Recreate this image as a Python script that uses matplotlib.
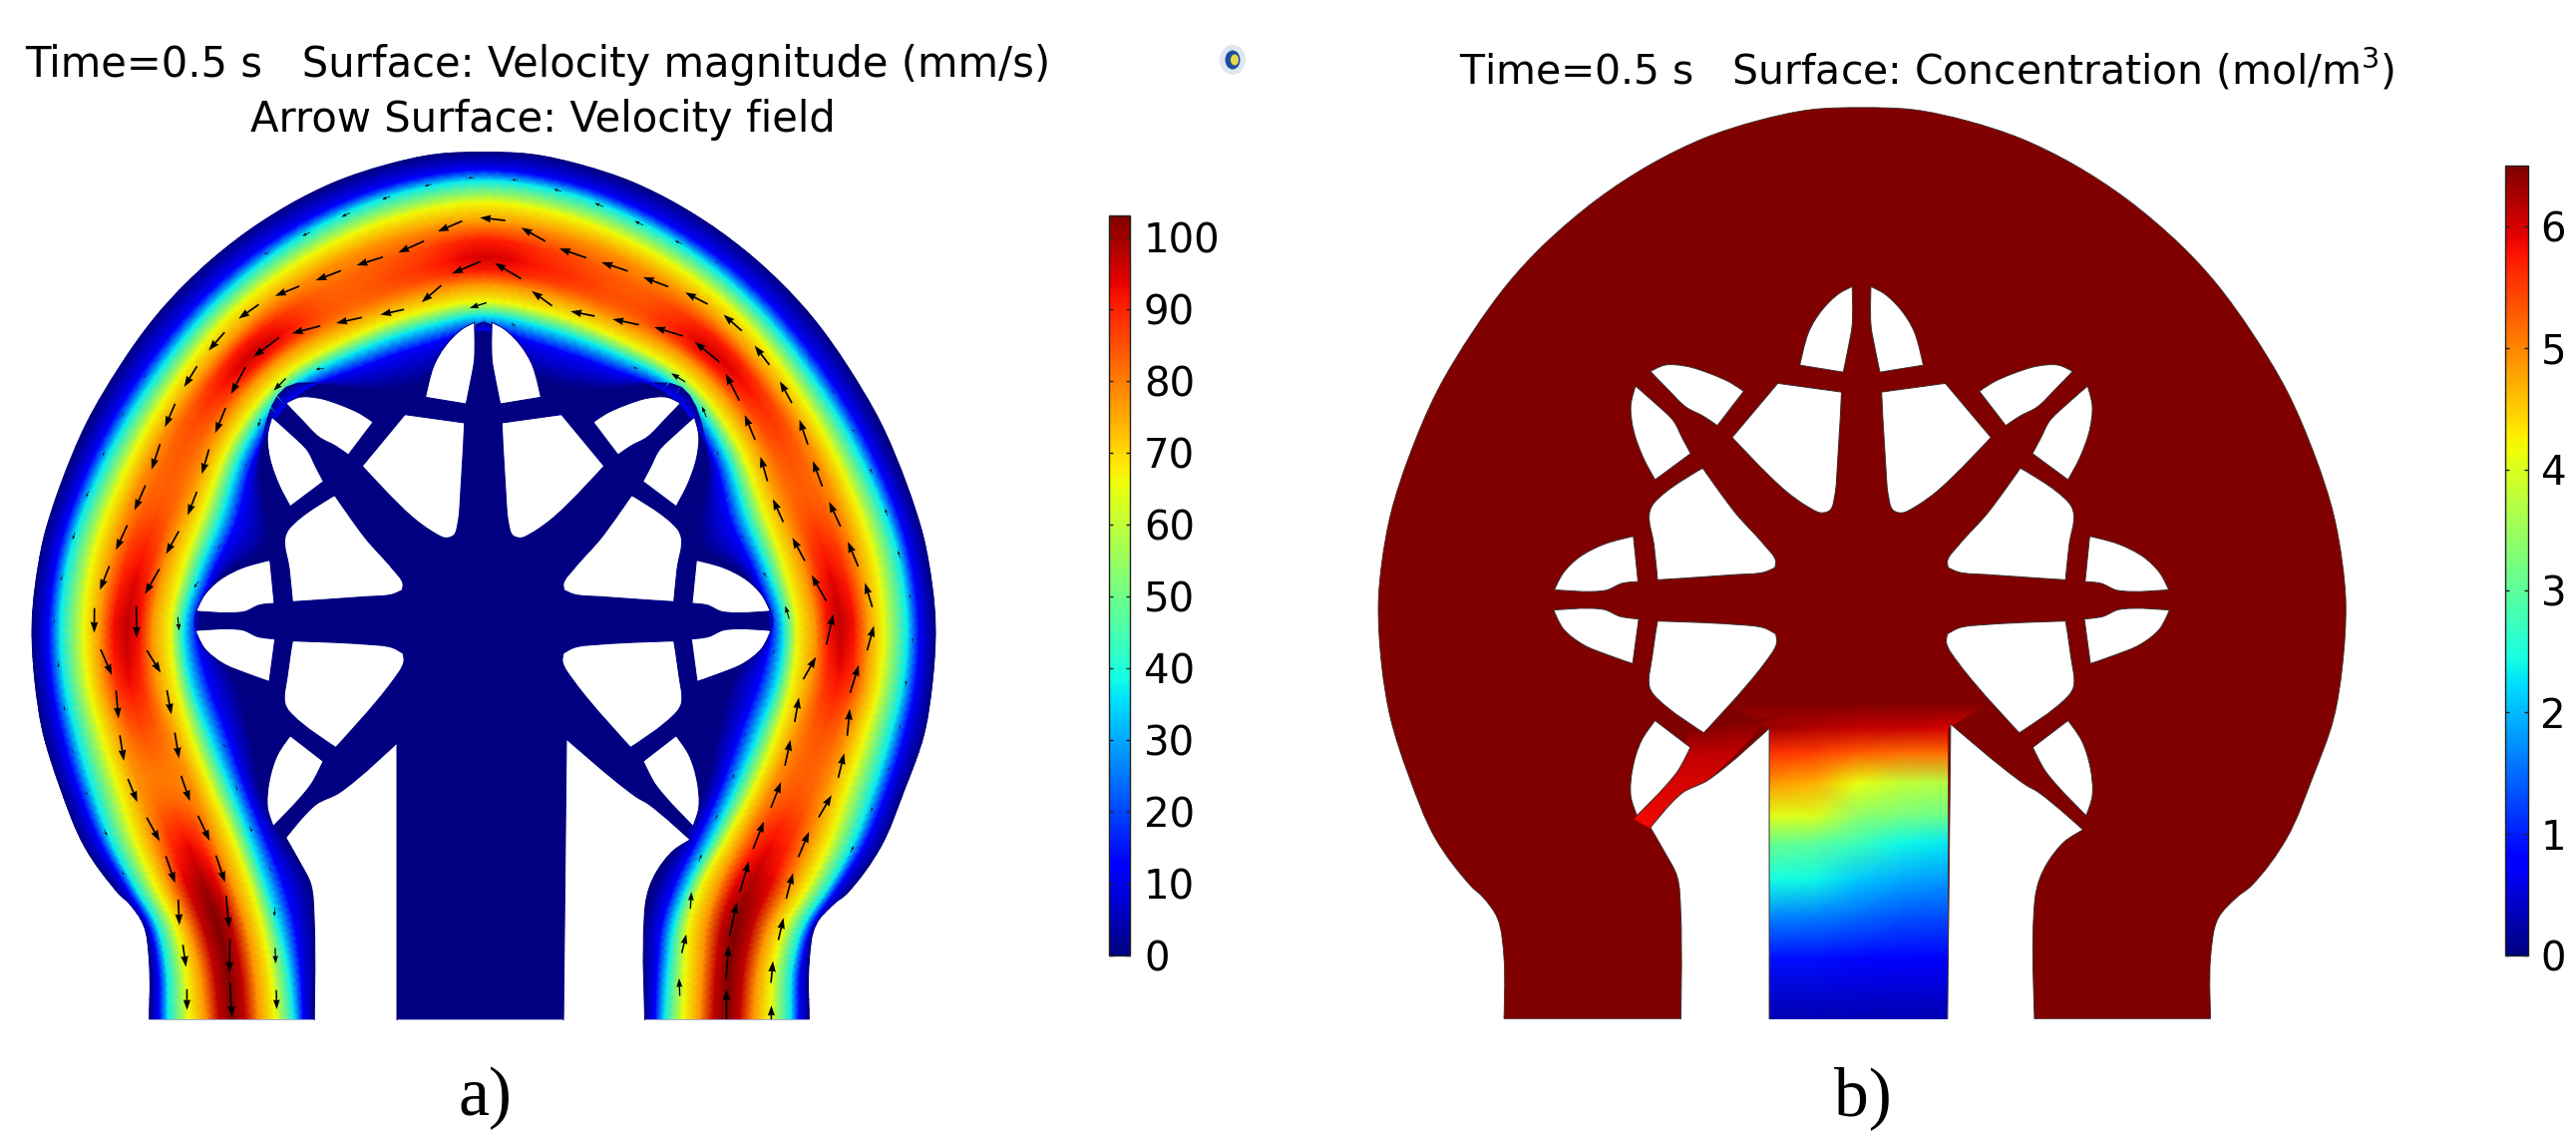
import numpy as np
import matplotlib
matplotlib.use('Agg')
import matplotlib.pyplot as plt
from matplotlib.cm import ScalarMappable
from matplotlib.colors import Normalize
from matplotlib.patches import Ellipse, PathPatch
from matplotlib.path import Path

W, H = 2583, 1134

# outer wall, left half, read in 3x crops (two crops, top one starts at y=140, bottom one at y=530)
wall_upper = [(35,1460),(45,1340),(70,1200),(120,1040),(200,850),(300,680),(400,540),(500,430),(650,300),(800,200),
              (950,125),(1100,75),(1250,43),(1395,37)]
wall_lower = [(45,470),(70,620),(120,780),(195,960),(295,1097),(330,1130),(370,1190),(388,1300),(388,1477)]
wall_lower_axis = [485,485,484,484,484,483,481,480.5,480.5]

# channel stations as (outer wall, inner wall)
lower_outer = [(388,1477),(388,1300),(370,1190),(295,1097),(195,960),(120,780),(70,620),(45,470)]
lower_inner = [(888,1477),(888,1300),(888,1190),(870,1060),(790,930),(720,770),(690,610),(640,440)]
upper_outer = [(35,1460),(67,1216),(143,994),(300,682),(520,412),(808,196),(1155,62),(1395,37)]
upper_inner = [(525,1460),(610,1310),(740,1215),(720,975),(800,745),(1070,754),(1263,700),(1395,548)]
# mirror axis of each lower station for the right hand side, in pixels
lower_axis = [480.5,480.5,481,484,484,484,485,485]

# where the colours sit across each station: cyan, yellow, orange, peak, orange, yellow, cyan
lower_left_iso = [(.114,.24,.344,.50,.66,.76,.874),(.114,.224,.314,.484,.634,.734,.844),(.106,.203,.27,.425,.60,.69,.795),(.096,.20,.27,.46,.60,.687,.765),
                  (.126,.25,.345,.51,.66,.765,.85),(.158,.30,.41,.53,.67,.74,.84),(.16,.28,.37,.48,.61,.71,.81),(.134,.25,.32,.45,.59,.69,.76)]
lower_right_iso = [(.134,.25,.32,.45,.59,.69,.76),(.16,.28,.37,.48,.61,.71,.81),(.158,.30,.41,.53,.67,.74,.84),(.126,.25,.345,.55,.70,.78,.85),
                   (.096,.20,.30,.52,.68,.77,.84),(.106,.21,.30,.47,.66,.77,.85),(.114,.224,.314,.484,.634,.734,.844),(.114,.24,.344,.50,.66,.76,.874)]
upper_iso = [(.16,.31,.41,.58,.72,.83,.90),(.125,.26,.365,.51,.65,.75,.85),(.14,.24,.33,.50,.60,.70,.80),(.17,.31,.40,.48,.64,.735,.83),
             (.20,.30,.45,.61,.75,.85,.92),(.115,.24,.33,.545,.635,.72,.80),(.12,.22,.31,.48,.59,.68,.77),(.14,.27,.40,.59,.77,.86,.92)]
lower_left_peak = [103,103,103,100,92,81,85,93]
upper_left_peak = [97,92,84,86,96,84,88,95]
upper_right_peak = [90,85,95,88,84,92,97]
lower_right_peak = [92,85,84,92,99,103,103,103]
blue_level, cyan_level, yellow_level, orange_level = 11.5, 37, 66, 78

# white openings of the star, left half, in panel a pixels
holes_left = [
    [(475.7,323.3),(463.3,330),(446.7,346.7),(435,366.7),(426.7,398.3),(467.3,405),(471.7,383.3),(475.7,360)],
    [(406,415.7),(465.7,424),(461.7,496.7),(459.3,523.3),(455,536.7),(446.7,539.3),(436.7,535),(413.3,518.3),(363.3,467.3)],
    [(286.7,404.3),(300,398.3),(320,399.3),(343.3,406.7),(361.7,415),(374,423.3),(349.3,456),(336.7,447.3),(320,438.3),(303.3,421.7)],
    [(272.7,418.3),(268.3,436.7),(270.7,460),(280,486.7),(291,507.7),(324.3,482.7),(316.7,468.3),(308.3,451.7),(293.3,436.7)],
    [(335.7,496.7),(366.7,540),(393.3,570),(404,585),(403.3,591.7),(393.3,596),(366.7,598.3),(293.3,603.3),(290,570),(285.7,540),(290,530)],
    [(270.7,561.7),(275,605),(260,606.7),(245,613.3),(196.7,612.7),(205,596.7),(220,581.7),(243.3,569.3)],
    [(196,632.3),(243.3,631.7),(258.3,638.3),(275.7,640.7),(270,683.3),(246.7,675),(223.3,665),(205,650)],
    [(293.3,642.7),(366.7,646),(393.3,649.3),(404,655),(405,663.3),(393.3,683.3),(336.7,749.3),(290,713.3),(285.7,705),(288.3,676.7)],
    [(291,737.7),(324,763.3),(311.7,786.7),(274,828.3),(268.3,810),(270,783.3),(278.3,756.7)],
]
gap_left = [(286.7,840),(316.7,806.7),(340,795),(398,745),(398,1030),(315,1030),(315,920),(311.7,886.7),(300,863.3)]
gap_right = [(692,842),(650,806),(638,799),(568,741),(565,1030),(647,1030),(647,908),(651,890),(659,873),(675,853)]
mirror_x = 484.5
bottom_y = 1022.5

# concentration in the stem of panel b
stem_x = [398, 440, 481, 523, 565]
stem_y = [722, 745, 768, 797, 829, 855, 890, 924, 964.5, 1022.5]
stem_conc = [[6.5,6.5,6.5,6.5,6.5],
             [6.3,6.2,6.1,6.1,6.0],
             [5.6,5.5,5.3,5.2,5.2],
             [4.9,4.7,4.1,3.8,3.7],
             [4.06,4.0,3.4,3.2,3.1],
             [3.1,3.0,2.75,2.4,2.3],
             [2.44,2.4,2.1,1.9,1.8],
             [1.7,1.65,1.5,1.35,1.3],
             [.9,.9,.85,.8,.75],
             [.3,.3,.3,.3,.3]]
arm_conc = [[6.5,6.5],[6.1,6.1],[5.85,5.85]]

speed_ticks = [0,10,20,30,40,50,60,70,80,90,100]
conc_ticks = [0,1,2,3,4,5,6]
speed_max = 103
conc_max = 6.5


def fine(pts, y0=140):
    pts = np.array(pts, dtype=float)
    return np.c_[20+pts[:,0]/3, y0+pts[:,1]/3]


def smooth_path(pts, sharp=55):
    # closed bezier outline through the points, corners sharper than `sharp` degrees stay corners
    pts = np.array(pts, dtype=float)
    n = len(pts)
    prev_d = pts-np.roll(pts, 1, axis=0)
    next_d = np.roll(pts, -1, axis=0)-pts
    l0 = np.hypot(*prev_d.T)
    l1 = np.hypot(*next_d.T)
    tan = prev_d/l0[:,None]+next_d/l1[:,None]
    tan /= np.hypot(*tan.T)[:,None]
    turn = np.degrees(np.arccos(np.clip((prev_d*next_d).sum(1)/(l0*l1), -1, 1)))
    k = np.where(turn > sharp, 0, .33)
    verts = [pts[0]]
    codes = [Path.MOVETO]
    for i in range(n):
        j = (i+1) % n
        verts += [pts[i]+tan[i]*k[i]*l1[i], pts[j]-tan[j]*k[j]*l0[j], pts[j]]
        codes += [Path.CURVE4]*3
    return Path(verts, codes)


def fine_mesh(a, t, f=6):
    # hermite along the channel so the colour bands do not show the stations as corners
    a = np.asarray(a, dtype=float)
    a = a[:,None] if a.ndim == 1 else a
    g = np.gradient(a, t, axis=0)
    out = []
    for i in range(len(a)-1):
        h = t[i+1]-t[i]
        for u in np.arange(f)/f:
            out.append((2*u**3-3*u**2+1)*a[i]+(u**3-2*u**2+u)*h*g[i]+(-2*u**3+3*u**2)*a[i+1]+(u**3-u**2)*h*g[i+1])
    out.append(a[-1])
    return np.array(out)


lo_o, lo_i = fine(lower_outer, 530), fine(lower_inner, 530)
up_o, up_i = fine(upper_outer), fine(upper_inner)
axis_x = up_o[-1,0]
flip = lambda p: np.c_[2*axis_x-p[:,0], p[:,1]]
flip_low = lambda p, ax: np.c_[(2*np.array(ax)-p[:,0])[::-1], p[::-1,1]]
outer = np.r_[lo_o, up_o, flip(up_o[-2::-1]), flip_low(lo_o, lower_axis)]
inner = np.r_[lo_i, up_i, flip(up_i[-2::-1]), flip_low(lo_i, lower_axis)]
iso = np.r_[np.array(lower_left_iso), np.array(upper_iso), np.array(upper_iso)[-2::-1], np.array(lower_right_iso)]
peak = np.array(lower_left_peak+upper_left_peak+upper_right_peak+lower_right_peak, dtype=float)

w_up, w_lo = fine(wall_upper), fine(wall_lower, 530)
wall_right_low = np.c_[2*np.array(wall_lower_axis)-w_lo[:,0], w_lo[:,1]]
wall = np.r_[w_lo[::-1], w_up, flip(w_up[-2::-1]), wall_right_low]
domain = smooth_path(wall)

# across each station: wall, blue, cyan, yellow, orange, shoulder, peak, shoulder, orange, yellow, cyan, blue, wall
n_st = len(iso)
zero, one = np.zeros(n_st), np.ones(n_st)
s = np.c_[zero, .55*iso[:,0], iso[:,:3], (iso[:,2]+iso[:,3])/2, iso[:,3], (iso[:,3]+iso[:,4])/2, iso[:,4:], 1-.55*(1-iso[:,6]), one]
shoulder = peak-(peak-orange_level)*.25
speed = np.c_[zero, blue_level*one, cyan_level*one, yellow_level*one, orange_level*one, shoulder, peak, shoulder,
              orange_level*one, yellow_level*one, cyan_level*one, blue_level*one, zero]
col_x = outer[:,0,None]+s*(inner[:,0,None]-outer[:,0,None])
col_y = outer[:,1,None]+s*(inner[:,1,None]-outer[:,1,None])
# take the reading noise out of the bands, inner columns only
for c in (col_x, col_y):
    c[1:-1,1:-1] = .25*c[:-2,1:-1]+.5*c[1:-1,1:-1]+.25*c[2:,1:-1]
mid = s.shape[1]//2
along = np.r_[0, np.cumsum(np.hypot(np.diff(col_x[:,mid]), np.diff(col_y[:,mid])))]

# arrow rows across the channel; they bunch into three rows in the two necks
tracks = [.12, .37, .63, .87]
neck_tracks = [0, .23, .5, .77]
track_s = []
for t, tn in zip(tracks, neck_tracks):
    ts = np.full(n_st, t)
    ts[:3] = tn
    ts[3] = (t+tn)/2
    ts[-3:] = tn
    ts[-4] = (t+tn)/2
    track_s.append(fine_mesh(ts, along)[:,0])

mesh_x, mesh_y, s, speed = fine_mesh(col_x, along), fine_mesh(col_y, along), fine_mesh(s, along), fine_mesh(speed, along)

holes = [np.array(h) for h in holes_left]
holes += [np.c_[2*mirror_x-h[:,0], h[:,1]] for h in holes]

plt.rcParams['font.family'] = ['DejaVu Sans']
fig = plt.figure(figsize=(W/100, H/100), dpi=100, facecolor='white')


def panel(x0, x1, xlim, ylim):
    ax = fig.add_axes([x0/W, 0, (x1-x0)/W, 1])
    ax.set_xlim(*xlim)
    ax.set_ylim(*ylim)
    ax.axis('off')
    return ax


def openings(ax, edge):
    for h in holes+[gap_left, gap_right]:
        ax.add_patch(PathPatch(smooth_path(h), fc='white', ec=edge, lw=.7, zorder=5))
    ax.axhspan(bottom_y, bottom_y+300, color='white', lw=0, zorder=6)


# panel a
ax_a = panel(0, 1300, (0, 1300), (H, 0))
ax_a.add_patch(PathPatch(domain, fc=plt.cm.jet(0.0), ec='none', zorder=1))
qm = ax_a.pcolormesh(mesh_x, mesh_y, speed, shading='gouraud', cmap='jet', vmin=0, vmax=speed_max, zorder=2)
qm.set_clip_path(domain, ax_a.transData)
openings(ax_a, plt.cm.jet(0.0))

arrow_gap = 44
ar_x, ar_y, ar_u, ar_v = [], [], [], []
for ts in track_s:
    tx = np.array([np.interp(ts[i], s[i], mesh_x[i]) for i in range(len(s))])
    ty = np.array([np.interp(ts[i], s[i], mesh_y[i]) for i in range(len(s))])
    tv = np.array([np.interp(ts[i], s[i], speed[i]) for i in range(len(s))])
    dist = np.r_[0, np.cumsum(np.hypot(np.diff(tx), np.diff(ty)))]
    at = np.arange(20, dist[-1], arrow_gap)
    px, py, pv = np.interp(at, dist, tx), np.interp(at, dist, ty), np.interp(at, dist, tv)
    dx = np.interp(at+5, dist, tx)-np.interp(at-5, dist, tx)
    dy = np.interp(at+5, dist, ty)-np.interp(at-5, dist, ty)
    n = np.hypot(dx, dy)
    keep = pv > 8
    ln = .34*pv*np.minimum(1, (pv/70)**.6)
    ar_x += list(px[keep])
    ar_y += list(py[keep])
    ar_u += list((-dx/n*ln)[keep])
    ar_v += list((-dy/n*ln)[keep])
qv = ax_a.quiver(ar_x, ar_y, ar_u, ar_v, angles='xy', scale_units='xy', scale=1, pivot='mid', color='black',
                 units='dots', width=1.7, headwidth=4.5, headlength=6.5, headaxislength=6, minshaft=2, minlength=.1, zorder=4)
qv.set_clip_path(domain, ax_a.transData)

# panel b, same geometry a bit larger
cx, sx, sy = 1865, 1.07, 1.05
ax_b = panel(1300, 2440, (483+(1300-cx)/sx, 483+(2440-cx)/sx), (1022-(1021-H)/sy, 1022-1021/sy))
ax_b.add_patch(PathPatch(domain, fc=plt.cm.jet(1.0), ec='#403030', lw=.6, zorder=1))
grid_x = np.tile(np.array(stem_x, dtype=float), (len(stem_y), 1))
grid_x[0] = [360, 420, 481, 535, 600]
grid_y = np.tile(np.array(stem_y, dtype=float)[:,None], (1, len(stem_x)))
ax_b.pcolormesh(grid_x, grid_y, stem_conc, shading='gouraud', cmap='jet', vmin=0, vmax=conc_max, zorder=2)
arm_x = [[325,397],[315,366],[272,290]]
arm_y = [[745,735],[772,770],[832,842]]
ax_b.pcolormesh(arm_x, arm_y, arm_conc, shading='gouraud', cmap='jet', vmin=0, vmax=conc_max, zorder=2)
openings(ax_b, '#3a3030')


def colorbar(left, right, top, bottom, vmax, ticks, pad):
    cax = fig.add_axes([left/W, 1-bottom/H, (right-left)/W, (bottom-top)/H])
    cb = fig.colorbar(ScalarMappable(Normalize(0, vmax), 'jet'), cax=cax, ticks=ticks)
    cb.outline.set_linewidth(1.0)
    cb.outline.set_edgecolor('#202020')
    cax.tick_params(axis='y', left=True, right=True, direction='in', length=3, width=1, labelsize=29, pad=pad, color='#202020')


colorbar(1112, 1133, 216, 958, speed_max, speed_ticks, 10)
colorbar(2512, 2535, 166, 958, conc_max, conc_ticks, 9)

# texts and the little icon, in figure pixels
top = fig.add_axes([0, 0, 1, 1], facecolor='none', zorder=10)
top.set_xlim(0, W)
top.set_ylim(H, 0)
top.axis('off')
title_kw = dict(ha='center', va='baseline', color='black')
top.text(539, 77, 'Time=0.5 s   Surface: Velocity magnitude (mm/s)', fontsize=30.1, **title_kw)
top.text(544, 132, 'Arrow Surface: Velocity field', fontsize=30.1, **title_kw)
top.text(1932, 85, 'Time=0.5 s   Surface: Concentration (mol/m$^3$)', fontsize=29.4, **title_kw)
top.text(486, 1118, 'a)', fontsize=50, family='Liberation Serif', ha='center', va='baseline')
top.text(1868, 1118, 'b)', fontsize=50, family='Liberation Serif', ha='center', va='baseline')
top.add_patch(Ellipse((1236, 60), 26, 30, fc='#dfe6f2', ec='none'))
top.add_patch(Ellipse((1236, 60), 15, 19, fc='#1d4f9c', ec='none'))
top.add_patch(Ellipse((1238, 60), 8, 11, fc='#e8d84a', ec='none'))

fig.savefig('out.png', dpi=100)
